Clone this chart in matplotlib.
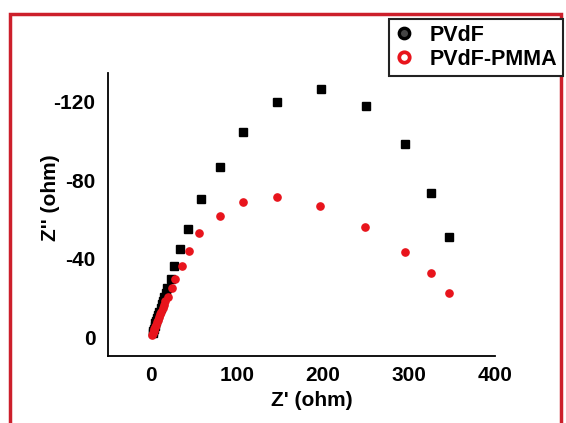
import matplotlib
matplotlib.use("Agg")
import matplotlib.pyplot as plt
from matplotlib.lines import Line2D
from matplotlib.patches import Rectangle

plt.rcParams['font.family'] = ['Liberation Sans', 'DejaVu Sans']
plt.rcParams['axes.unicode_minus'] = False

series_names = ["PVdF", "PVdF-PMMA"]

# PVdF: Z' (ohm), Z'' (ohm)
pvdf_zre = [1.8, 2.5, 3.3, 4.2, 5.2, 6.2, 7.3, 8.5, 9.8, 11.1, 12.5, 14.0, 15.6, 17.2,
            18.9, 22.7, 27.0, 34.3, 43.1, 57.8, 79.8, 107.5, 146.0, 197.3, 250.0,
            294.8, 325.7, 346.5]
pvdf_zim = [-1.8, -3.0, -4.2, -5.5, -6.9, -8.3, -9.8, -11.4, -13.0, -14.8, -16.6, -18.5,
            -20.5, -22.6, -25.0, -29.6, -36.4, -44.8, -55.0, -70.3, -86.7, -104.5,
            -120.2, -126.5, -118.0, -98.6, -73.7, -51.2]

# PVdF-PMMA
pmma_zre = [1.5, 2.2, 3.0, 3.9, 4.8, 5.8, 6.9, 8.0, 9.2, 10.5, 11.9, 13.4, 15.0, 16.8,
            20.0, 23.9, 27.7, 35.5, 43.9, 55.8, 79.8, 107.5, 146.0, 196.0, 249.4,
            294.8, 325.7, 346.5]
pmma_zim = [-0.8, -1.8, -2.9, -4.0, -5.1, -6.3, -7.5, -8.8, -10.1, -11.5, -13.0, -14.6,
            -16.4, -18.4, -20.6, -24.9, -29.6, -36.3, -44.0, -53.0, -62.0, -68.8,
            -71.3, -67.0, -56.0, -43.6, -32.5, -22.6]

x_ticks = [0, 100, 200, 300, 400]
y_ticks = [0, -40, -80, -120]

RED = '#e8141c'

fig = plt.figure(figsize=(5.66, 4.23), dpi=100)
ax = fig.add_axes([108/566, 1-356/423, (495-108)/566, (356-73)/423])

ax.plot(pvdf_zre, pvdf_zim, linestyle='none', marker='s', markersize=5.4,
        color='black', zorder=3)
ax.plot(pmma_zre, pmma_zim, linestyle='none', marker='o', markersize=5.2,
        color=RED, zorder=4)

ax.set_xlim(-50, 398)
ax.set_ylim(9.7, -134.8)
ax.set_xticks(x_ticks)
ax.set_yticks(y_ticks)

for s in ['top', 'right']:
    ax.spines[s].set_visible(False)
for s in ['left', 'bottom']:
    ax.spines[s].set_linewidth(1.3)
    ax.spines[s].set_color('black')

ax.tick_params(axis='both', length=0, labelsize=15)
ax.tick_params(axis='x', pad=7)
ax.tick_params(axis='y', pad=9)
for lbl in ax.get_xticklabels() + ax.get_yticklabels():
    lbl.set_fontweight('bold')

ax.set_xlabel("Z' (ohm)", fontsize=15, fontweight='bold')
ax.set_ylabel("Z'' (ohm)", fontsize=15, fontweight='bold')
ax.xaxis.set_label_coords(0.527, -0.125)
ax.yaxis.set_label_coords(-0.125, 0.56)

handles = [
    Line2D([], [], linestyle='none', marker='o', markersize=7.5, color='black',
           markerfacecolor='#444444', markeredgewidth=2.4),
    Line2D([], [], linestyle='none', marker='o', markersize=7.5, color=RED,
           markerfacecolor='white', markeredgewidth=2.7),
]
leg = fig.legend(handles, series_names, loc='upper right',
                 bbox_to_anchor=(563/566, 1-19/423),
                 prop={'weight': 'bold', 'size': 15.5},
                 frameon=True, fancybox=False, framealpha=1,
                 borderpad=0.28, handletextpad=0.8, handlelength=0.8,
                 labelspacing=0.12, borderaxespad=0)
leg.get_frame().set_edgecolor('#222222')
leg.get_frame().set_linewidth(1.5)

# red frame around the figure
fig.patches.append(Rectangle((9.5/566, -0.05), (561-9.5)/566, 1.05-14/423,
                             transform=fig.transFigure, fill=False,
                             edgecolor='#cc1f2b', linewidth=2.5))

fig.savefig('out.png', dpi=100)
